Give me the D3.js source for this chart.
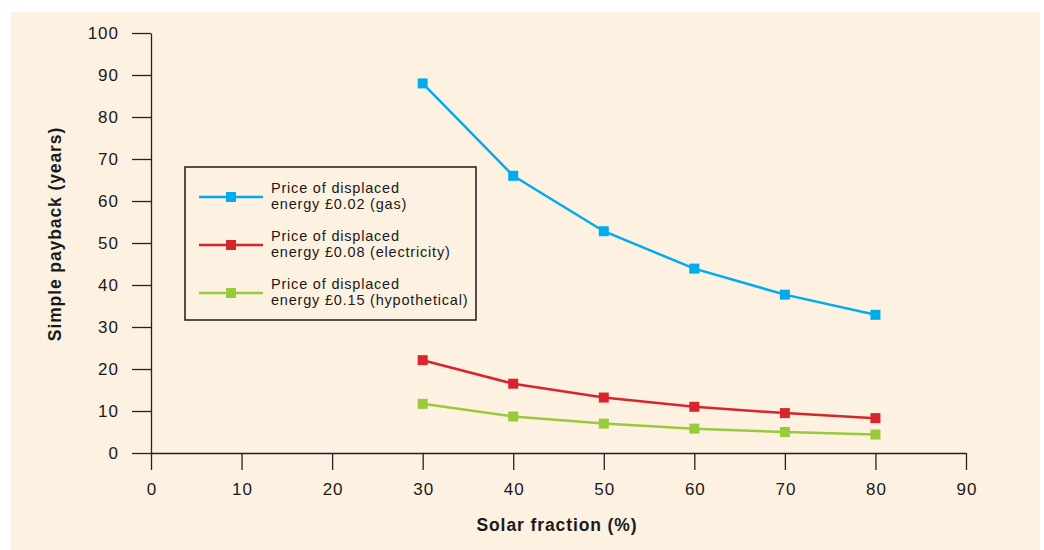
<!DOCTYPE html>
<html>
<head>
<meta charset="utf-8">
<script src="https://cdn.jsdelivr.net/npm/d3@7"></script>
<style>
  body { margin: 0; background: #fff; }
  svg { display: block; font-family: "Liberation Sans", Arial, sans-serif; }
  .axis text { font-size: 17px; fill: #1a1a1a; letter-spacing: 1px; }
  .axis line, .axis path { stroke: #222; stroke-width: 1.3; }
  .axis-label { font-size: 17.5px; font-weight: bold; fill: #1a1a1a; letter-spacing: 0.9px; }
  .leg-text { font-size: 14.5px; fill: #1a1a1a; letter-spacing: 0.8px; }
</style>
</head>
<body>
<svg id="chart"></svg>
<script>
const W = 1044;
const H = 550;

// data
const solarFraction = [30, 40, 50, 60, 70, 80];
const gasPayback = [88, 66, 52.8, 43.9, 37.7, 32.9];
const elecPayback = [22.1, 16.5, 13.2, 11.0, 9.5, 8.3];
const hypoPayback = [11.7, 8.7, 7.0, 5.8, 5.0, 4.4];
const xTicks = [0, 10, 20, 30, 40, 50, 60, 70, 80, 90];
const yTicks = [0, 10, 20, 30, 40, 50, 60, 70, 80, 90, 100];

const series = [
  { name: ["Price of displaced", "energy £0.02 (gas)"], values: gasPayback, color: "#00acec" },
  { name: ["Price of displaced", "energy £0.08 (electricity)"], values: elecPayback, color: "#d8242c" },
  { name: ["Price of displaced", "energy £0.15 (hypothetical)"], values: hypoPayback, color: "#98ca3a" }
];

const svg = d3.select("#chart").attr("width", W).attr("height", H);

// beige panel
svg.append("rect")
   .attr("x", 11).attr("y", 12)
   .attr("width", 1029).attr("height", 538)
   .attr("fill", "#fdf1e2");

const x = d3.scaleLinear().domain([0, 90]).range([151, 966]);
const y = d3.scaleLinear().domain([0, 100]).range([453, 33]);

// y axis
svg.append("g")
   .attr("class", "axis")
   .attr("transform", `translate(${x(0)},0)`)
   .call(d3.axisLeft(y).tickValues(yTicks).tickSize(19).tickSizeOuter(0).tickPadding(13));

// x axis
svg.append("g")
   .attr("class", "axis")
   .attr("transform", `translate(0,${y(0)})`)
   .call(d3.axisBottom(x).tickValues(xTicks).tickSize(17).tickSizeOuter(0).tickPadding(13))
   .selectAll("text").attr("dx", "0.5px");

// axis labels
svg.append("text")
   .attr("class", "axis-label")
   .attr("transform", "translate(61,234) rotate(-90)")
   .attr("text-anchor", "middle")
   .text("Simple payback (years)");

svg.append("text")
   .attr("class", "axis-label")
   .attr("x", 557).attr("y", 531)
   .attr("text-anchor", "middle")
   .text("Solar fraction (%)");

// lines + markers
const line = d3.line()
   .x((d, i) => x(solarFraction[i]))
   .y(d => y(d));

const ms = 10;
series.forEach(s => {
  svg.append("path")
     .attr("d", line(s.values))
     .attr("fill", "none")
     .attr("stroke", s.color)
     .attr("stroke-width", 2.5);

  svg.selectAll(null)
     .data(s.values).enter().append("rect")
     .attr("x", (d, i) => x(solarFraction[i]) - ms / 2)
     .attr("y", d => y(d) - ms / 2)
     .attr("width", ms).attr("height", ms)
     .attr("fill", s.color);
});

// legend
const leg = svg.append("g");
leg.append("rect")
   .attr("x", 185).attr("y", 167)
   .attr("width", 291).attr("height", 153)
   .attr("fill", "none")
   .attr("stroke", "#1a1a1a")
   .attr("stroke-width", 1.5);

const rowY = [197, 245, 293];
series.forEach((s, i) => {
  const yy = rowY[i];
  leg.append("line")
     .attr("x1", 199).attr("x2", 263)
     .attr("y1", yy).attr("y2", yy)
     .attr("stroke", s.color).attr("stroke-width", 2.5);
  leg.append("rect")
     .attr("x", 231 - ms / 2).attr("y", yy - ms / 2)
     .attr("width", ms).attr("height", ms)
     .attr("fill", s.color);
  s.name.forEach((t, j) => {
    leg.append("text")
       .attr("class", "leg-text")
       .attr("x", 271).attr("y", yy - 4 + j * 16)
       .text(t);
  });
});
</script>
</body>
</html>
